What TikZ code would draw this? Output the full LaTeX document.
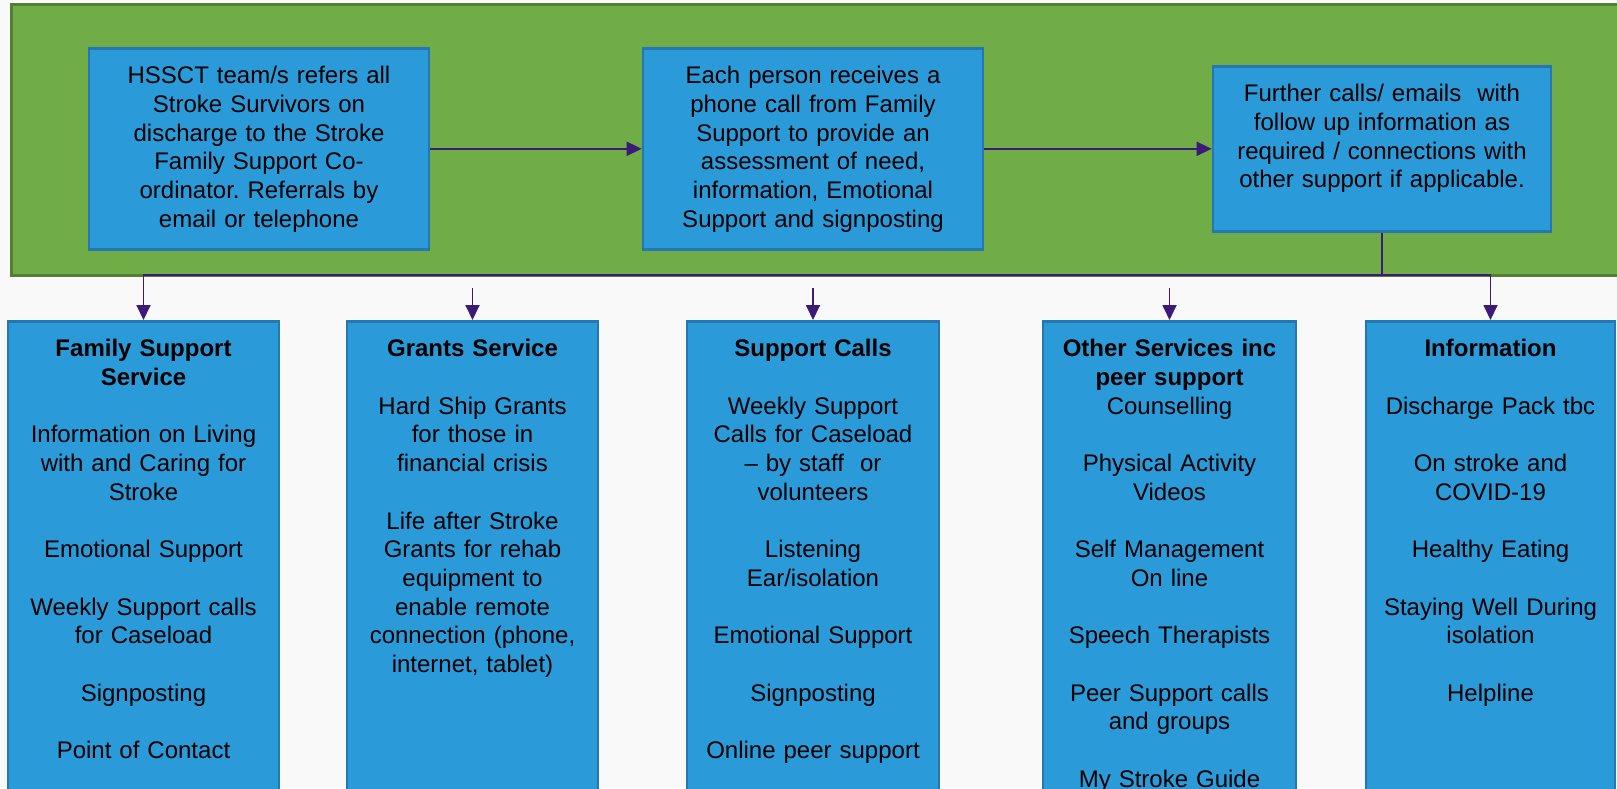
\documentclass[tikz,border=0pt]{standalone}
\usepackage{fontspec}
\setmainfont{Liberation Sans}
\usetikzlibrary{arrows.meta}
\definecolor{paper}{HTML}{F9F9F9}
\definecolor{leafgreen}{HTML}{70AD47}
\definecolor{leafedge}{HTML}{537F35}
\definecolor{boxblue}{HTML}{2A9BD8}
\definecolor{boxedge}{HTML}{2477B2}
\definecolor{linkpurple}{HTML}{3C1A7A}
\newcommand{\gap}{\\[14.35pt]}
\frenchspacing

\begin{document}
\begin{tikzpicture}[x=0.5pt,y=-0.5pt,
  stage/.style={draw=boxedge,fill=boxblue,line width=1.3pt,anchor=north,inner xsep=0pt,inner ysep=8.75pt,
    text height=9pt,align=center,font=\fontsize{12}{14.35}\selectfont},
  link/.style={draw=linkpurple,line width=0.9pt,-{Triangle[length=7.5pt,width=7pt]}}]
\useasboundingbox (0,0) rectangle (1617,788);
\clip (0,0) rectangle (1617,788);
\fill[paper] (0,0) rectangle (1617,788);
\draw[fill=leafgreen,draw=leafedge,line width=1.5pt] (11,4) rectangle (1640,275);

\node[stage,text width=170pt,text depth=74pt] (refer) at (259,47) {HSSCT team/s refers all\\Stroke Survivors on\\discharge to the Stroke\\Family Support Co-\\ordinator. Referrals by\\email or telephone};
\node[stage,text width=170pt,text depth=74pt] (call) at (813,47) {Each person receives a\\phone call from Family\\Support to provide an\\assessment of need,\\information, Emotional\\Support and signposting};
\node[stage,text width=169pt,text depth=56pt] (follow) at (1382,65) {Further calls/ emails\ \ with\\follow up information as\\required / connections with\\other support if applicable.};

\node[stage,text width=135.5pt,text depth=600pt] (family) at (143.5,320) {\textbf{Family Support}\\\textbf{Service}\gap
  Information on Living\\with and Caring for\\Stroke\gap Emotional Support\gap Weekly Support calls\\for Caseload\gap
  Signposting\gap Point of Contact};
\node[stage,text width=125.5pt,text depth=600pt] (grants) at (472.5,320) {\textbf{Grants Service}\gap
  Hard Ship Grants\\for those in\\financial crisis\gap Life after Stroke\\Grants for rehab\\equipment to\\enable remote\\connection (phone,\\internet, tablet)};
\node[stage,text width=126pt,text depth=600pt] (calls) at (813,320) {\textbf{Support Calls}\gap
  Weekly Support\\Calls for Caseload\\– by staff\ \ or\\volunteers\gap Listening\\Ear/isolation\gap Emotional Support\gap
  Signposting\gap Online peer support};
\node[stage,text width=126.5pt,text depth=600pt] (other) at (1169.5,320) {\textbf{Other Services inc}\\\textbf{peer support}\\
  Counselling\gap Physical Activity\\Videos\gap Self Management\\On line\gap Speech Therapists\gap
  Peer Support calls\\and groups\gap My Stroke Guide};
\node[stage,text width=124.5pt,text depth=600pt] (info) at (1490.5,320) {\textbf{Information}\gap
  Discharge Pack tbc\gap On stroke and\\COVID-19\gap Healthy Eating\gap Staying Well During\\isolation\gap Helpline};

\draw[link] (refer) -- (call);
\draw[link] (call) -- (follow);
\coordinate (bus) at (1382,275);
\draw[link] (follow.south) -- (bus) -| (family.north);
\draw[link] (bus) -| (info.north);
\foreach \n in {grants,calls,other} {
  \coordinate (\n-in) at ([yshift=16pt]\n.north);
  \draw[link] (\n-in) -- (\n.north);
}
\end{tikzpicture}
\end{document}
